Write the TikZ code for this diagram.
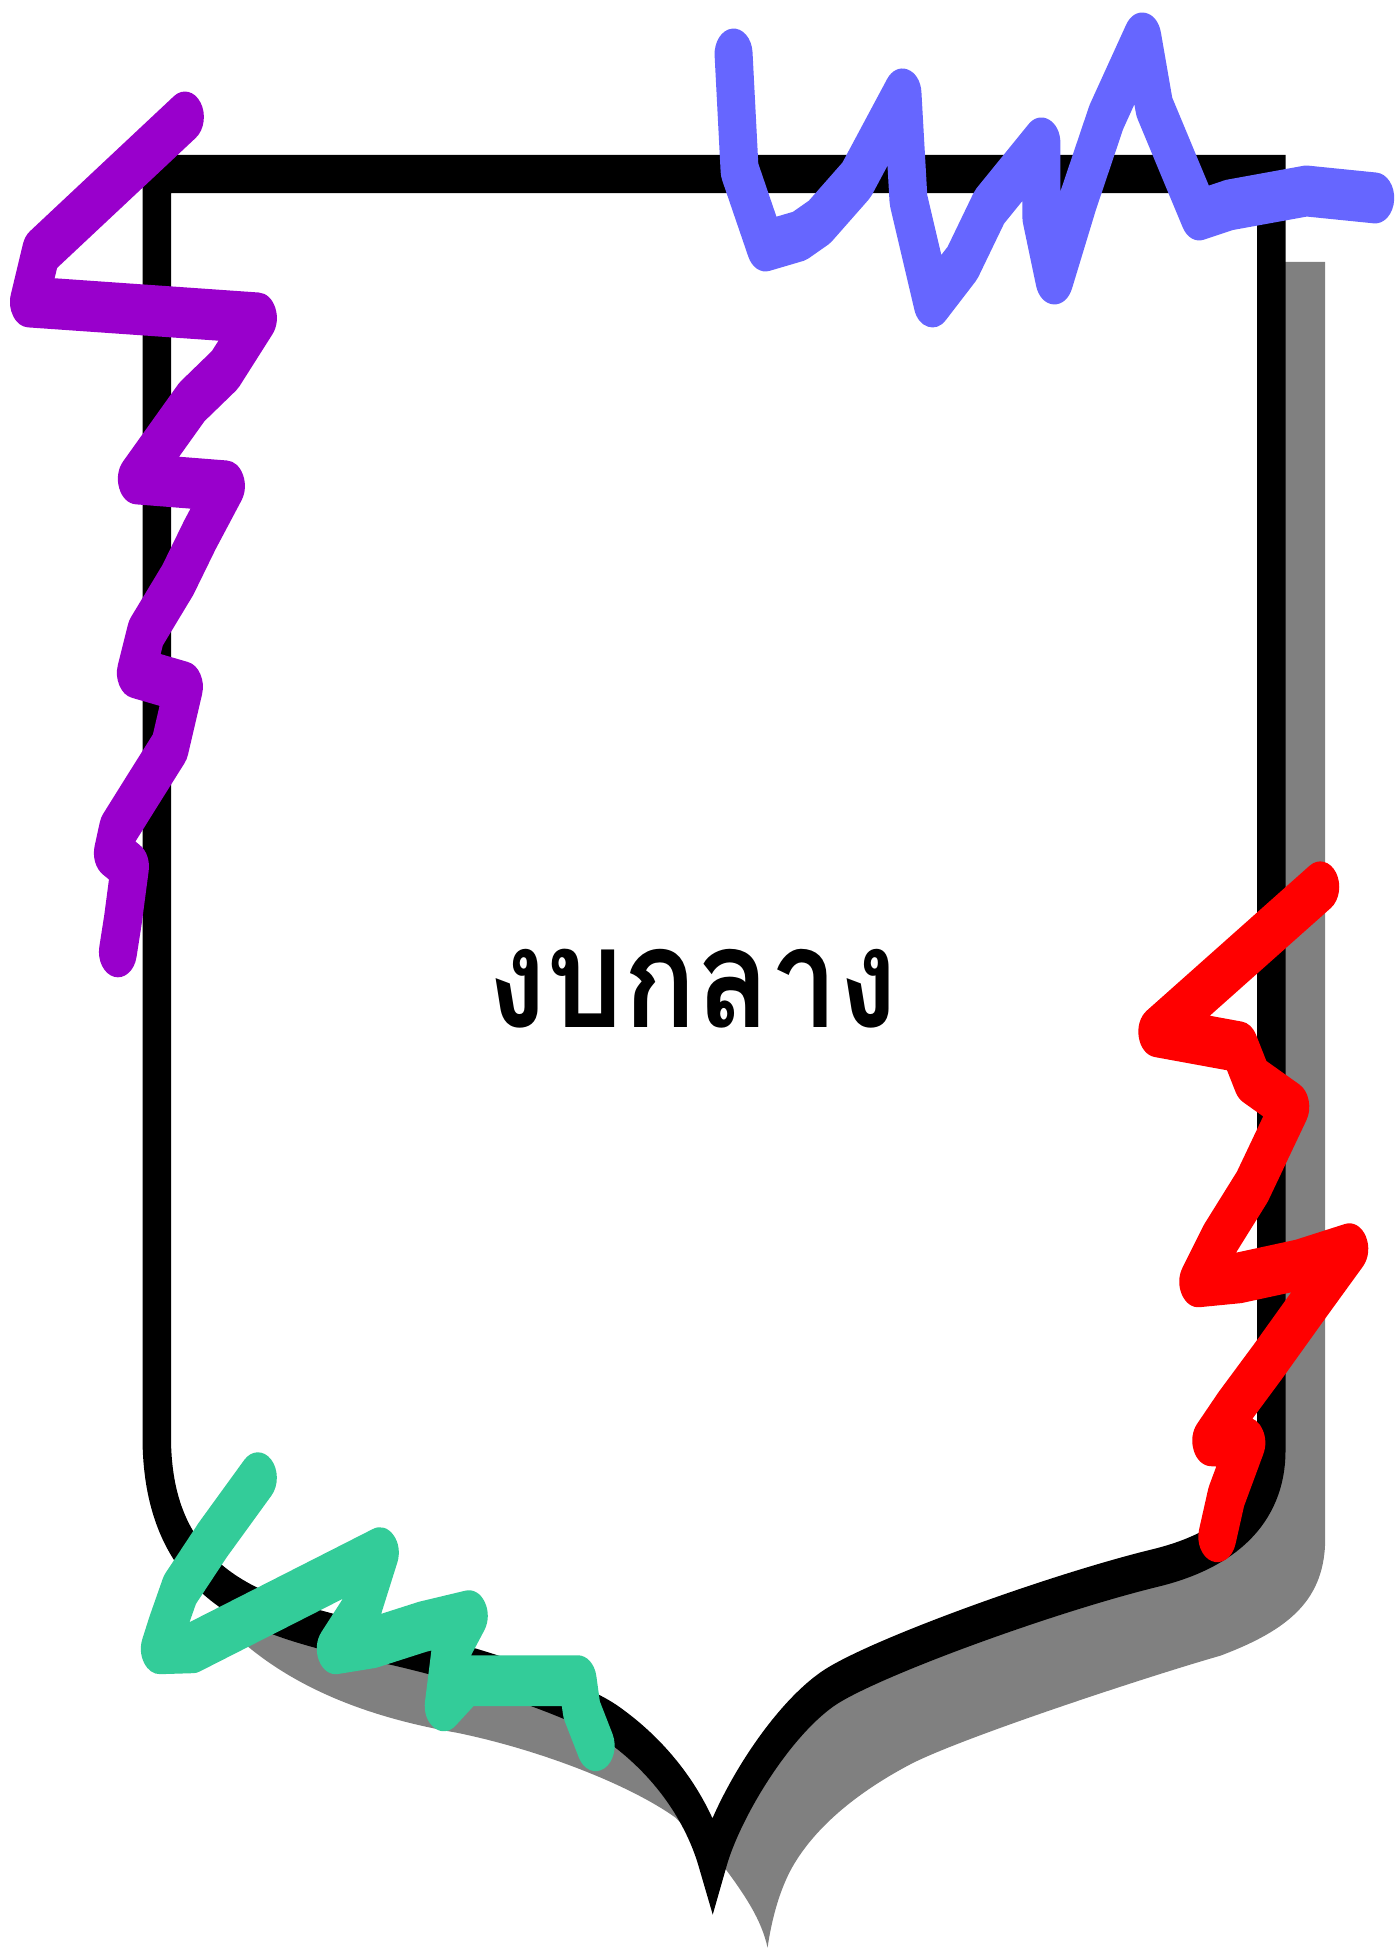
\documentclass[tikz,border=0pt]{standalone}
\usepackage{fontspec}
\newfontfamily\thaifont[Script=Thai]{Loma}
\definecolor{scrPurple}{HTML}{9900CC}
\definecolor{scrBlue}{HTML}{6666FF}
\definecolor{scrRed}{HTML}{FF0000}
\definecolor{scrGreen}{HTML}{33CC99}
\definecolor{shadowGray}{HTML}{808080}
\tikzset{
  frame/.style={draw=black, fill=white, line width=0.285cm, line join=miter, miter limit=10},
  shadowfill/.style={fill=shadowGray},
  scribble/.style={line width=0.38cm, line cap=round, line join=round},
  titletext/.style={inner sep=0pt, text=black}
}
\begin{document}
\begin{tikzpicture}
\fill[white] (0cm,0cm) rectangle (13.96cm,-19.51cm);
\useasboundingbox (0cm,0cm) rectangle (13.96cm,-19.51cm);
\begin{scope}[x={(0.01cm,0cm)}, y={(0cm,-0.0074627cm)}, transform canvas={yscale=1.34}]
  % shadow
  \fill[shadowfill] (1326,262) -- (1326,1538)
    .. controls (1326,1600) and (1290,1630) .. (1221,1656)
    .. controls (1154,1675) and (965,1737) .. (912,1764)
    .. controls (870,1786) and (820,1820) .. (793,1867)
    .. controls (780,1890) and (772,1920) .. (768,1948)
    .. controls (762,1920) and (745,1895) .. (725,1868)
    -- (676,1818)
    .. controls (630,1785) and (540,1750) .. (457,1733)
    .. controls (370,1718) and (300,1690) .. (247,1646)
    -- (275,1610) -- (300,1500) -- (1255,262) -- cycle;
  % shield
  \draw[frame] (157,1447) -- (157,174) -- (1272,174) -- (1272,1451)
    .. controls (1272,1510) and (1230,1550) .. (1157,1568)
    .. controls (1050,1594) and (867,1661) .. (827,1690)
    .. controls (778,1725) and (727,1810) .. (713,1862)
    .. controls (699,1812) and (665,1760) .. (610,1722)
    .. controls (565,1692) and (420,1648) .. (350,1638)
    .. controls (280,1618) and (162,1600) .. (157,1447) -- cycle;
  % title
  \node[titletext] (title) at (693,989) {\scalebox{1}[0.86]{\resizebox{4.1cm}{!}{\thaifont\bfseries งบกลาง}}};
  % purple scribble
  \draw[scribble, draw=scrPurple] (185,117) -- (41,252) -- (29,302) -- (258,318)
    -- (225,370) -- (192,402) -- (137,479) -- (226,486) -- (200,535) -- (178,580) -- (146,633)
    -- (136,673) -- (184,687) -- (170,747) -- (143,790) -- (118,830) -- (113,853)
    -- (130,867) -- (123,920) -- (118,952);
  % blue scribble
  \draw[scribble, draw=scrBlue] (734,54) -- (740,170) -- (766,246) -- (800,236) -- (820,222)
    -- (857,180) -- (903,94) -- (909,200) -- (933,302) -- (963,263) -- (990,207)
    -- (1042,143) -- (1042,217) -- (1055,279) -- (1079,200) -- (1107,117)
    -- (1143,38) -- (1155,107) -- (1180,167) -- (1200,215) -- (1230,205)
    -- (1307,191) -- (1376,198);
  % red scribble
  \draw[scribble, draw=scrRed] (1321,887) -- (1158,1032) -- (1240,1047)
    -- (1253,1080) -- (1291,1107) -- (1253,1187) -- (1220,1240) -- (1199,1282)
    -- (1240,1278) -- (1300,1265) -- (1350,1249) -- (1313,1300) -- (1270,1360)
    -- (1233,1410) -- (1212,1441) -- (1247,1443) -- (1227,1497) -- (1218,1537);
  % green scribble
  \draw[scribble, draw=scrGreen] (258,1478) -- (213,1540) -- (180,1590)
    -- (167,1627) -- (160,1649) -- (193,1648) -- (380,1553) -- (363,1607)
    -- (336,1649) -- (373,1643) -- (423,1627) -- (469,1616) -- (451,1650)
    -- (444,1706) -- (467,1681) -- (578,1681) -- (582,1710) -- (596,1746);
\end{scope}
\end{tikzpicture}
\end{document}
